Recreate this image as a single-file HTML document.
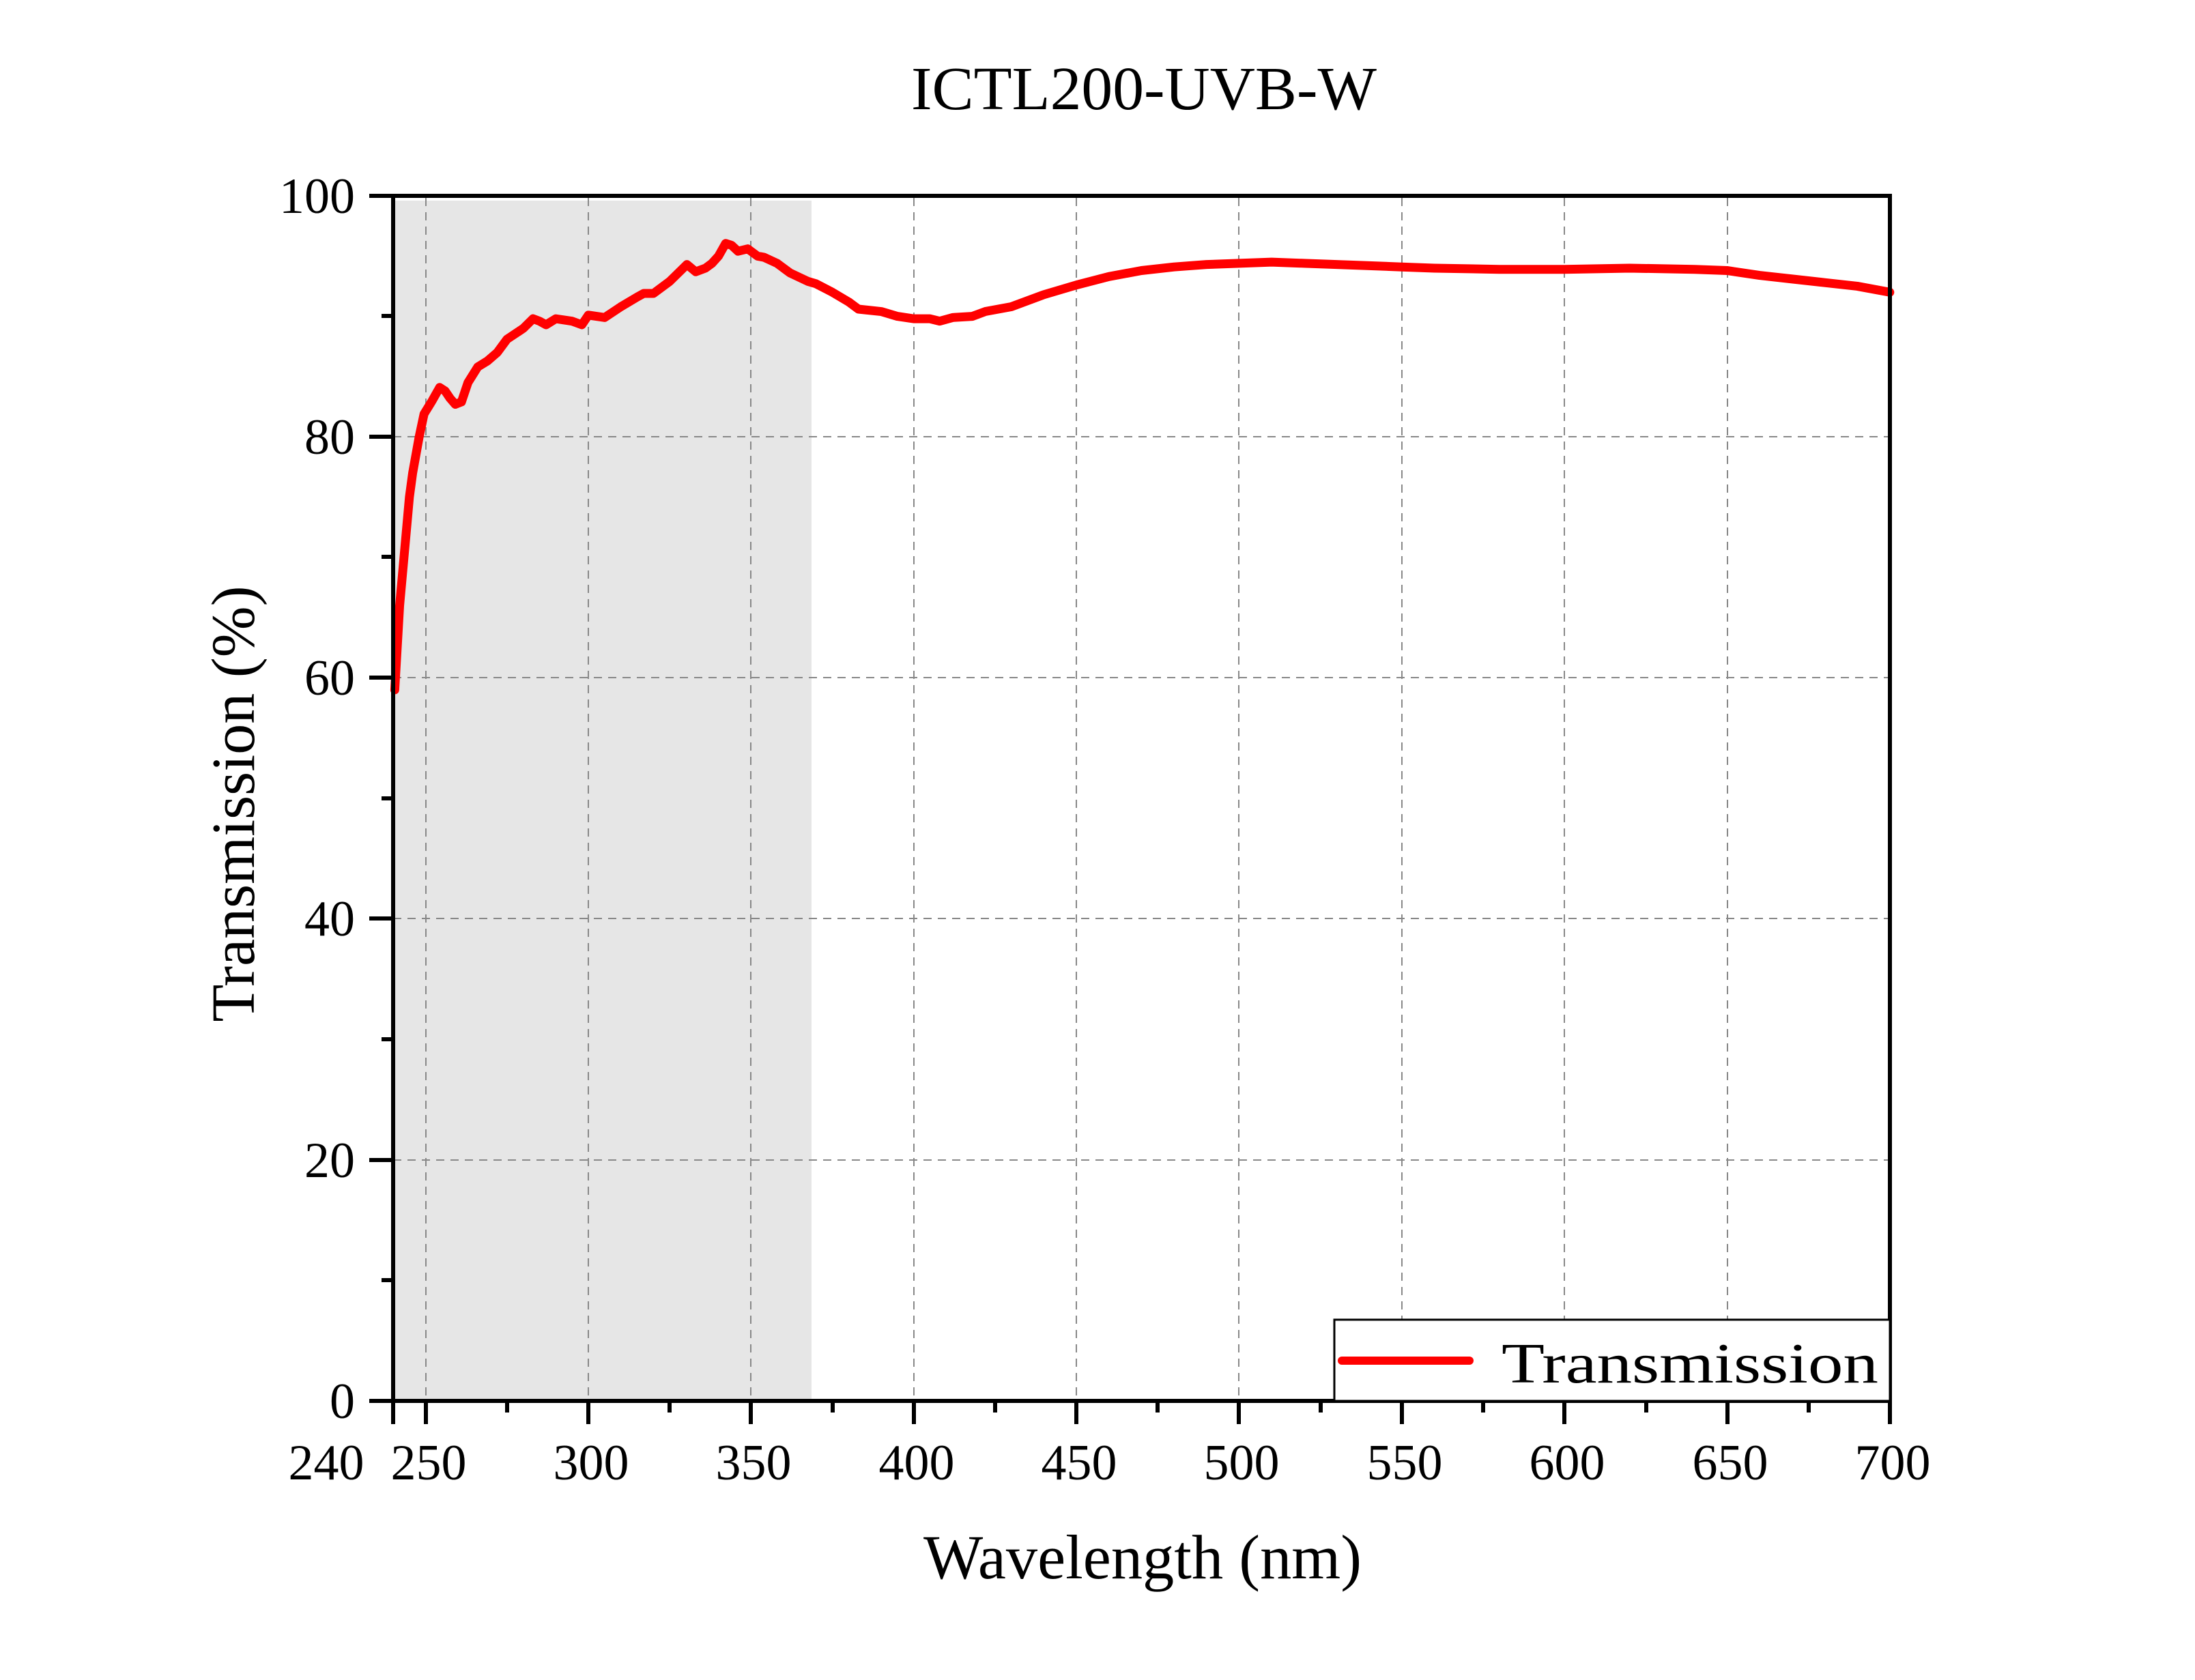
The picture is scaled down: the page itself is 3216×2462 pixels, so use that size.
<!DOCTYPE html>
<html><head><meta charset="utf-8"><style>html,body{margin:0;padding:0;background:#fff}svg{display:block}</style></head>
<body>
<svg width="3216" height="2462" viewBox="0 0 3216 2462" xmlns="http://www.w3.org/2000/svg" font-family="'Liberation Serif', serif">
<rect width="3216" height="2462" fill="#fff"/>
<rect x="576" y="294" width="613" height="1759" fill="#e6e6e6"/>
<g stroke="#888" stroke-width="2" stroke-dasharray="12 9">
<line x1="624" y1="290" x2="624" y2="2053"/>
<line x1="862" y1="290" x2="862" y2="2053"/>
<line x1="1100" y1="290" x2="1100" y2="2053"/>
<line x1="1339" y1="290" x2="1339" y2="2053"/>
<line x1="1577" y1="290" x2="1577" y2="2053"/>
<line x1="1815" y1="290" x2="1815" y2="2053"/>
<line x1="2054" y1="290" x2="2054" y2="2053"/>
<line x1="2292" y1="290" x2="2292" y2="2053"/>
<line x1="2531" y1="290" x2="2531" y2="2053"/>
<line x1="576" y1="640" x2="2769" y2="640"/>
<line x1="576" y1="993" x2="2769" y2="993"/>
<line x1="576" y1="1346" x2="2769" y2="1346"/>
<line x1="576" y1="1700" x2="2769" y2="1700"/>
</g>
<g transform="translate(576,2053) scale(4.767,-17.66) translate(-240,0)">
<polyline fill="none" stroke="#ff0000" stroke-width="13" vector-effect="non-scaling-stroke" stroke-linejoin="round" stroke-linecap="round" points="240.5,59 242,66 244,72 245,75 246,77 248,80 249.5,81.9 252,83 254.3,84.1 256,83.8 257.5,83.2 259.1,82.7 261,82.9 263,84.5 266,85.8 269,86.3 272,87 275,88.1 280,89 283,89.8 285,89.6 287,89.3 290,89.8 295,89.6 298,89.3 300,90.1 305,89.9 310,90.8 315,91.6 317,91.9 320,91.9 325,92.9 330.3,94.3 333,93.7 336,94 338,94.4 340,95 342.2,96.05 344,95.9 346,95.4 349,95.6 352,95 354,94.9 358,94.4 362,93.6 367.5,92.9 370,92.7 375,92 380,91.2 383,90.6 390,90.4 395,90 400,89.8 405,89.8 408,89.6 412,89.9 418,90 422,90.4 430,90.8 440,91.8 450,92.6 460,93.3 470,93.8 480,94.1 490,94.3 500,94.4 510,94.5 520,94.4 530,94.3 540,94.2 550,94.1 560,94 580,93.9 600,93.9 620,94 640,93.9 650,93.8 660,93.4 670,93.1 680,92.8 690,92.5 700,92"/>
</g>
<rect x="576" y="287" width="2193" height="1766" fill="none" stroke="#000" stroke-width="6"/>
<g stroke="#000" stroke-width="6">
<line x1="576" y1="2053" x2="576" y2="2087"/>
<line x1="624" y1="2053" x2="624" y2="2087"/>
<line x1="862" y1="2053" x2="862" y2="2087"/>
<line x1="1100" y1="2053" x2="1100" y2="2087"/>
<line x1="1339" y1="2053" x2="1339" y2="2087"/>
<line x1="1577" y1="2053" x2="1577" y2="2087"/>
<line x1="1815" y1="2053" x2="1815" y2="2087"/>
<line x1="2054" y1="2053" x2="2054" y2="2087"/>
<line x1="2292" y1="2053" x2="2292" y2="2087"/>
<line x1="2531" y1="2053" x2="2531" y2="2087"/>
<line x1="2769" y1="2053" x2="2769" y2="2087"/>
<line x1="743" y1="2053" x2="743" y2="2070"/>
<line x1="981" y1="2053" x2="981" y2="2070"/>
<line x1="1220" y1="2053" x2="1220" y2="2070"/>
<line x1="1458" y1="2053" x2="1458" y2="2070"/>
<line x1="1696" y1="2053" x2="1696" y2="2070"/>
<line x1="1935" y1="2053" x2="1935" y2="2070"/>
<line x1="2173" y1="2053" x2="2173" y2="2070"/>
<line x1="2412" y1="2053" x2="2412" y2="2070"/>
<line x1="2650" y1="2053" x2="2650" y2="2070"/>
<line x1="541" y1="2053" x2="576" y2="2053"/>
<line x1="541" y1="1700" x2="576" y2="1700"/>
<line x1="541" y1="1346" x2="576" y2="1346"/>
<line x1="541" y1="993" x2="576" y2="993"/>
<line x1="541" y1="640" x2="576" y2="640"/>
<line x1="541" y1="287" x2="576" y2="287"/>
<line x1="559" y1="1876" x2="576" y2="1876"/>
<line x1="559" y1="1523" x2="576" y2="1523"/>
<line x1="559" y1="1170" x2="576" y2="1170"/>
<line x1="559" y1="816" x2="576" y2="816"/>
<line x1="559" y1="463" x2="576" y2="463"/>
</g>
<g font-size="74" fill="#000">
<g text-anchor="end">
<text x="520" y="2078">0</text>
<text x="520" y="1725">20</text>
<text x="520" y="1371">40</text>
<text x="520" y="1018">60</text>
<text x="520" y="665">80</text>
<text x="520" y="312">100</text>
</g>
<g text-anchor="middle">
<text x="478" y="2168">240</text>
<text x="628" y="2168">250</text>
<text x="866" y="2168">300</text>
<text x="1104" y="2168">350</text>
<text x="1343" y="2168">400</text>
<text x="1581" y="2168">450</text>
<text x="1819" y="2168">500</text>
<text x="2058" y="2168">550</text>
<text x="2296" y="2168">600</text>
<text x="2535" y="2168">650</text>
<text x="2773" y="2168">700</text>
</g>
</g>
<text x="1676" y="160" font-size="90" text-anchor="middle" textLength="682" lengthAdjust="spacingAndGlyphs">ICTL200-UVB-W</text>
<text x="1674" y="2313" font-size="92" text-anchor="middle" textLength="642" lengthAdjust="spacingAndGlyphs">Wavelength (nm)</text>
<text transform="translate(372,1178) rotate(-90)" font-size="90" text-anchor="middle">Transmission (%)</text>
<rect x="1955" y="1934" width="814" height="119" fill="#fff" stroke="#000" stroke-width="3"/>
<line x1="1966" y1="1994" x2="2153" y2="1994" stroke="#ff0000" stroke-width="12" stroke-linecap="round"/>
<text x="2200" y="2026" font-size="84" textLength="552" lengthAdjust="spacingAndGlyphs">Transmission</text>
</svg>
</body></html>
